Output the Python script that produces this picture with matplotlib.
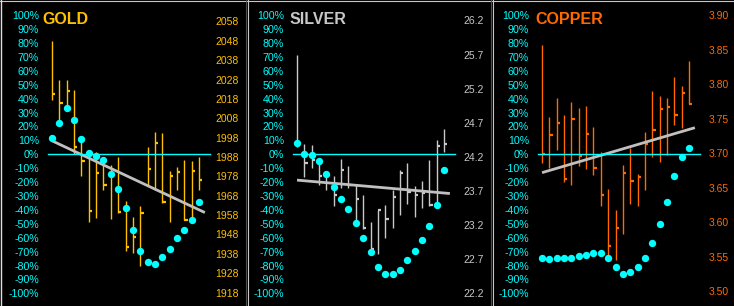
import numpy as np
import matplotlib
matplotlib.use("Agg")
import matplotlib.pyplot as plt
from matplotlib.lines import Line2D

plt.rcParams['font.family'] = ['Liberation Sans', 'DejaVu Sans']

W, H, DPI = 734, 306, 100
CYAN = '#00FFFF'
TREND = '#C0C0C0'

# oscillator (%) shown by the cyan dots, left axis
pct_ticks = [-100, -90, -80, -70, -60, -50, -40, -30, -20, -10, 0,
             10, 20, 30, 40, 50, 60, 70, 80, 90, 100]

# ---- GOLD ----
gold_high = [2047.9, 2027.8, 2027.8, 2022.6, 1996.2, 1990.7, 1990.6, 1984.9, 1983.9, 1988.0, 1965.3,
             1957.0, 1962.8, 1993.3, 2001.1, 2000.6, 1980.8, 1982.8, 1986.5, 1985.9, 1988.0]
gold_low = [2017.4, 2004.5, 2012.3, 1989.3, 1978.3, 1954.6, 1956.6, 1971.0, 1956.0, 1959.1, 1939.6,
            1938.4, 1931.7, 1973.7, 1971.1, 1964.2, 1954.4, 1971.0, 1955.6, 1955.5, 1971.0]
gold_close = [2020.4, 2016.0, 2022.1, 1993.3, 1986.1, 1960.3, 1979.9, 1973.5, 1978.2, 1959.7, 1941.5,
              1946.7, 1959.1, 1981.8, 1995.4, 1964.6, 1978.3, 1980.3, 1955.6, 1980.8, 1976.1]
gold_osc = [11.7, 22.5, 33.3, 25.0, 11.3, 1.2, -1.2, -4.3, -14.2, -25.0, -38.4,
            -54.4, -69.5, -77.5, -78.9, -73.9, -68.3, -60.2, -54.4, -47.2, -34.3]
gold_ticks = [1918, 1928, 1938, 1948, 1958, 1968, 1978, 1988, 1998, 2008, 2018, 2028, 2038, 2048, 2058]

# ---- SILVER ----
silver_high = [25.693, 24.390, 24.371, 24.171, 23.976, 23.926, 24.171, 24.064, 23.794, 23.648, 23.244,
               23.428, 23.487, 23.721, 24.014, 24.112, 23.771, 23.844, 24.160, 24.449, 24.610]
silver_low = [24.351, 23.903, 24.039, 23.794, 23.707, 23.478, 23.746, 23.746, 23.234, 23.136, 22.794,
              22.770, 23.014, 23.160, 23.355, 23.502, 23.317, 23.453, 23.478, 23.483, 24.278]
silver_close = [24.376, 24.112, 24.156, 23.917, 23.936, 23.648, 24.014, 23.790, 23.575, 23.160, 22.843,
                23.428, 23.282, 23.610, 23.966, 23.683, 23.648, 23.673, 23.493, 24.361, 24.386]
silver_osc = [8.3, 0.2, -0.3, -4.5, -13.9, -23.7, -31.9, -39.1, -49.4, -60.0, -70.1,
              -80.9, -85.9, -85.9, -83.1, -75.9, -69.4, -61.7, -51.4, -36.3, -11.1]
silver_ticks = [22.2, 22.7, 23.2, 23.7, 24.2, 24.7, 25.2, 25.7, 26.2]

# ---- COPPER ----
copper_high = [3.8566, 3.7528, 3.7795, 3.7553, 3.7737, 3.7650, 3.7683, 3.7384, 3.7022, 3.6482, 3.6173,
               3.6834, 3.7071, 3.6703, 3.7311, 3.7905, 3.7832, 3.7795, 3.8107, 3.7973, 3.8335]
copper_low = [3.6858, 3.6786, 3.7046, 3.6579, 3.6535, 3.6819, 3.6771, 3.6689, 3.6231, 3.5458, 3.5458,
              3.5835, 3.6265, 3.6231, 3.6463, 3.6945, 3.6868, 3.6974, 3.7408, 3.7360, 3.7712]
copper_close = [3.6993, 3.7263, 3.7442, 3.6627, 3.7491, 3.6964, 3.7278, 3.6786, 3.6399, 3.5661, 3.5917,
                3.6713, 3.6593, 3.6655, 3.7133, 3.7336, 3.7636, 3.7673, 3.7553, 3.7876, 3.7712]
copper_osc = [-74.8, -75.3, -74.8, -74.8, -74.8, -73.2, -72.2, -71.0, -71.0, -74.6, -81.1,
              -86.1, -84.7, -81.1, -74.8, -64.0, -50.4, -34.5, -15.6, -1.9, 4.5]
copper_ticks = [3.50, 3.55, 3.60, 3.65, 3.70, 3.75, 3.80, 3.85, 3.90]

panels = [
    dict(name="GOLD", color='#FFC000', high=gold_high, low=gold_low, close=gold_close,
         osc=gold_osc, ticks=gold_ticks, fmt="{:.0f}", ylim=(1917.6, 2061.2), ox=0, tx=42),
    dict(name="SILVER", color='#C8C8C8', high=silver_high, low=silver_low, close=silver_close,
         osc=silver_osc, ticks=silver_ticks, fmt="{:.1f}", ylim=(22.204, 26.275), ox=245, tx=45),
    dict(name="COPPER", color='#FF6A00', high=copper_high, low=copper_low, close=copper_close,
         osc=copper_osc, ticks=copper_ticks, fmt="{:.2f}", ylim=(3.4972, 3.8996), ox=490, tx=45.5),
]

fig = plt.figure(figsize=(W / DPI, H / DPI), dpi=DPI, facecolor='black')

for p in panels:
    ox = p['ox']
    x = np.arange(len(p['close']))

    ax = fig.add_axes([(ox + 41) / W, (H - 293.3) / H, 171 / W, 278 / H])
    ax2 = ax.twinx()
    ax.set_zorder(2)
    ax2.set_zorder(1)
    ax.patch.set_visible(False)
    ax2.set_facecolor('black')

    for a in (ax, ax2):
        for s in a.spines.values():
            s.set_visible(False)
        a.set_xticks([])
        a.set_xlim(-1.5, 21.77)

    # left percent axis
    ax.set_ylim(-100, 100)
    ax.set_yticks(pct_ticks)
    ax.set_yticklabels([f"{t}%" for t in pct_ticks])
    ax.tick_params(axis='y', length=0, pad=1.4, labelcolor=CYAN, labelsize=7.7)

    # right price axis
    ax2.set_ylim(*p['ylim'])
    ax2.set_yticks(p['ticks'])
    ax2.set_yticklabels([p['fmt'].format(t) for t in p['ticks']])
    ax2.tick_params(axis='y', length=0, pad=19.4, labelcolor=p['color'], labelsize=7.5)
    for lab in ax2.get_yticklabels():
        lab.set_horizontalalignment('right')

    # price bars (high-low with close tick)
    ax2.vlines(x, p['low'], p['high'], color=p['color'], lw=1.0)
    ax2.hlines(p['close'], x, x + 0.45, color=p['color'], lw=1.6)

    # linear trend of closes
    coef = np.polyfit(x, p['close'], 1)
    xs = np.array([0, 20.8])
    ax2.plot(xs, np.polyval(coef, xs), color=TREND, lw=2, solid_capstyle='butt')

    # zero line and oscillator dots
    ax.axhline(0, xmin=0.041, xmax=0.988, color=CYAN, lw=1)
    ax.plot(x, p['osc'], 'o', ms=5.3, color=CYAN, mec='none')

    fig.text((ox + p['tx']) / W, 1 - 19 / H, p['name'], color=p['color'],
             fontsize=11.5, fontweight='bold', ha='left', va='center')

# panel frame lines
fig.add_artist(Line2D([0, 1], [1 - 0.5 / H] * 2, color='#C8C8C8', lw=0.8, transform=fig.transFigure))
fig.add_artist(Line2D([0.8 / W] * 2, [0, 1], color='#E0E0E0', lw=1.0, transform=fig.transFigure))
for sx in (245, 490):
    fig.add_artist(Line2D([(sx + 0.5) / W] * 2, [0, 1], color='#505050', lw=0.8, transform=fig.transFigure))
    fig.add_artist(Line2D([(sx + 2.5) / W] * 2, [0, 1], color='#C8C8C8', lw=0.8, transform=fig.transFigure))

fig.savefig("out.png", dpi=DPI, facecolor='black')
